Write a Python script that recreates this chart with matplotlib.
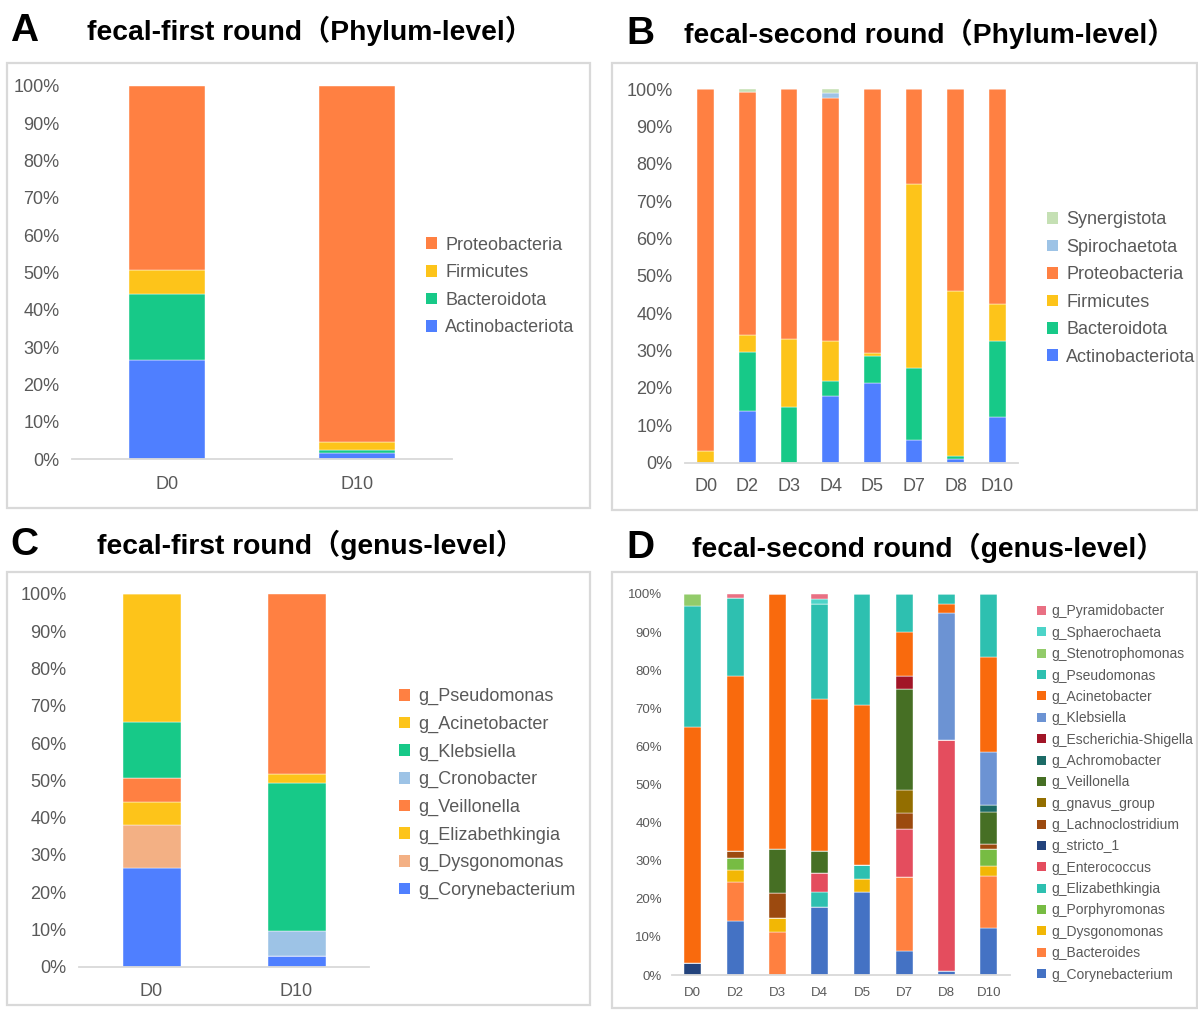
import numpy as np
import matplotlib
matplotlib.use("Agg")
import matplotlib.pyplot as plt
from matplotlib.patches import Rectangle, Patch

plt.rcParams['font.family'] = ['Liberation Sans', 'Noto Sans CJK SC', 'DejaVu Sans']

# ---------------- data ----------------
# Panel A: fecal-first round, phylum level (bottom -> top)
a_days = ["D0", "D10"]
a_phyla = ["Actinobacteriota", "Bacteroidota", "Firmicutes", "Proteobacteria"]
a_actino = [26.5, 1.5]
a_bactero = [17.8, 0.8]
a_firmi = [6.3, 2.2]
a_proteo = [49.4, 95.5]

# Panel B: fecal-second round, phylum level
b_days = ["D0", "D2", "D3", "D4", "D5", "D7", "D8", "D10"]
b_phyla = ["Actinobacteriota", "Bacteroidota", "Firmicutes", "Proteobacteria",
           "Spirochaetota", "Synergistota"]
b_actino = [0.0, 13.8, 0.0, 17.9, 21.4, 6.2, 0.9, 12.3]
b_bactero = [0.0, 15.7, 15.0, 3.9, 7.2, 19.2, 0.9, 20.3]
b_firmi = [3.1, 4.7, 18.1, 10.8, 0.7, 49.2, 44.2, 9.9]
b_proteo = [96.9, 64.9, 66.9, 65.1, 70.7, 25.4, 54.0, 57.5]
b_spiro = [0.0, 0.0, 0.0, 1.2, 0.0, 0.0, 0.0, 0.0]
b_synerg = [0.0, 0.9, 0.0, 1.1, 0.0, 0.0, 0.0, 0.0]

# Panel C: fecal-first round, genus level
c_days = ["D0", "D10"]
c_genera = ["g_Corynebacterium", "g_Dysgonomonas", "g_Elizabethkingia", "g_Veillonella",
            "g_Cronobacter", "g_Klebsiella", "g_Acinetobacter", "g_Pseudomonas"]
c_coryne = [26.6, 2.9]
c_dysgo = [11.3, 0.0]
c_eliza = [6.4, 0.0]
c_veill = [6.3, 0.0]
c_crono = [0.0, 6.8]
c_klebs = [15.1, 39.5]
c_acine = [34.3, 2.5]
c_pseudo = [0.0, 48.3]

# Panel D: fecal-second round, genus level
d_days = ["D0", "D2", "D3", "D4", "D5", "D7", "D8", "D10"]
d_genera = ["g_Corynebacterium", "g_Bacteroides", "g_Dysgonomonas", "g_Porphyromonas",
            "g_Elizabethkingia", "g_Enterococcus", "g_stricto_1", "g_Lachnoclostridium",
            "g_gnavus_group", "g_Veillonella", "g_Achromobacter", "g_Escherichia-Shigella",
            "g_Klebsiella", "g_Acinetobacter", "g_Pseudomonas", "g_Stenotrophomonas",
            "g_Sphaerochaeta", "g_Pyramidobacter"]
d_coryne = [0.0, 14.3, 0.0, 17.9, 21.8, 6.4, 1.0, 12.4]
d_bacteroides = [0.0, 10.1, 11.4, 0.0, 0.0, 19.4, 0.0, 13.7]
d_dysgo = [0.0, 3.2, 3.6, 0.0, 3.4, 0.0, 0.0, 2.5]
d_porphy = [0.0, 3.0, 0.0, 0.0, 0.0, 0.0, 0.0, 4.4]
d_eliza = [0.0, 0.0, 0.0, 3.9, 3.8, 0.0, 0.0, 0.0]
d_entero = [0.0, 0.0, 0.0, 4.9, 0.0, 12.5, 60.7, 0.0]
d_stricto = [3.1, 0.0, 0.0, 0.0, 0.0, 0.0, 0.0, 0.0]
d_lachno = [0.0, 1.9, 6.4, 0.0, 0.0, 4.2, 0.0, 1.3]
d_gnavus = [0.0, 0.0, 0.0, 0.0, 0.0, 6.1, 0.0, 0.0]
d_veill = [0.0, 0.0, 11.7, 5.8, 0.0, 26.4, 0.0, 8.5]
d_achro = [0.0, 0.0, 0.0, 0.0, 0.0, 0.0, 0.0, 1.8]
d_esch = [0.0, 0.0, 0.0, 0.0, 0.0, 3.5, 0.0, 0.0]
d_klebs = [0.0, 0.0, 0.0, 0.0, 0.0, 0.0, 33.4, 13.8]
d_acine = [61.9, 46.1, 66.9, 39.9, 41.9, 11.6, 2.3, 25.1]
d_pseudo = [31.9, 20.3, 0.0, 25.0, 29.1, 9.9, 2.6, 16.5]
d_steno = [3.1, 0.0, 0.0, 0.0, 0.0, 0.0, 0.0, 0.0]
d_sphaero = [0.0, 0.0, 0.0, 1.2, 0.0, 0.0, 0.0, 0.0]
d_pyramido = [0.0, 1.1, 0.0, 1.4, 0.0, 0.0, 0.0, 0.0]

# ---------------- styles ----------------
BLUE, GREEN, YELLOW, ORANGE = '#4F7FFF', '#17C988', '#FDC41A', '#FF8042'
LBLUE, LGREEN, PEACH = '#9DC3E6', '#C5E0B4', '#F3B084'
a_colors = [BLUE, GREEN, YELLOW, ORANGE]
b_colors = [BLUE, GREEN, YELLOW, ORANGE, LBLUE, LGREEN]
c_colors = [BLUE, PEACH, YELLOW, ORANGE, LBLUE, GREEN, YELLOW, ORANGE]
d_colors = ['#4472C4', '#FF8040', '#F2B705', '#77BC43', '#2EC0B0', '#E44D5E', '#23437C',
            '#9C4A0F', '#936E00', '#466F24', '#1C6B66', '#A11527', '#6C93D3', '#F96A0D',
            '#2EC0B0', '#92CB6A', '#4DD4C8', '#E97083']

GRAY_TXT = '#595959'
GRAY_LINE = '#D9D9D9'
W, H = 1198, 1010

fig = plt.figure(figsize=(W / 100, H / 100), dpi=100)


def rect(x0, x1, ytop, ybot):
    return [x0 / W, 1 - ybot / H, (x1 - x0) / W, (ybot - ytop) / H]


def border(x0, x1, ytop, ybot):
    fig.add_artist(Rectangle((x0 / W, 1 - ybot / H), (x1 - x0) / W, (ybot - ytop) / H,
                             transform=fig.transFigure, fill=False,
                             edgecolor=GRAY_LINE, lw=1.6))


def panel(pos, days, names, series, colors, fs, ypad, xpad, leg_left, leg_cy, leg_fs,
          leg_space):
    ax = fig.add_axes(rect(*pos))
    x = np.arange(len(days))
    bottom = np.zeros(len(days))
    handles = []
    for name, vals, col in zip(names, series, colors):
        vals = np.asarray(vals, dtype=float)
        ax.bar(x, vals, 0.4, bottom=bottom, color=col, edgecolor='white',
               linewidth=0.3, label=name)
        bottom += vals
        handles.append(Patch(facecolor=col, edgecolor='none', label=name))
    ax.set_xlim(-0.5, len(days) - 0.5)
    ax.set_ylim(0, 100)
    ax.set_yticks(np.arange(0, 101, 10))
    ax.set_yticklabels([f"{v}%" for v in range(0, 101, 10)])
    ax.set_xticks(x)
    ax.set_xticklabels(days)
    for s in ['top', 'right', 'left']:
        ax.spines[s].set_visible(False)
    ax.spines['bottom'].set_color(GRAY_LINE)
    ax.spines['bottom'].set_linewidth(1.3)
    ax.tick_params(axis='both', length=0, colors=GRAY_TXT, labelsize=fs)
    ax.tick_params(axis='y', pad=ypad)
    ax.tick_params(axis='x', pad=xpad)
    ax.set_facecolor('none')
    leg = fig.legend(handles[::-1], names[::-1], loc='center left',
                     bbox_to_anchor=(leg_left / W, 1 - leg_cy / H),
                     frameon=False, fontsize=leg_fs, handlelength=0.62,
                     handleheight=0.62, handletextpad=0.45, labelspacing=leg_space,
                     borderpad=0, borderaxespad=0)
    for t in leg.get_texts():
        t.set_color(GRAY_TXT)
    return ax


# borders
border(7, 590, 63, 508)
border(612, 1197, 63, 510)
border(7, 590, 572, 1005)
border(612, 1197, 572, 1008)

panel((72, 452, 86, 459), a_days, a_phyla, [a_actino, a_bactero, a_firmi, a_proteo],
      a_colors, 13, 9, 12, 426, 286.5, 13, 0.59)
panel((685, 1018, 89, 462.7), b_days, b_phyla,
      [b_actino, b_bactero, b_firmi, b_proteo, b_spiro, b_synerg],
      b_colors, 13, 9, 11, 1047, 288.5, 13, 0.58)
panel((79, 369, 594, 966.7), c_days, c_genera,
      [c_coryne, c_dysgo, c_eliza, c_veill, c_crono, c_klebs, c_acine, c_pseudo],
      c_colors, 13, 9, 12, 399, 793.5, 13, 0.58)
panel((671.7, 1010, 594, 975), d_days, d_genera,
      [d_coryne, d_bacteroides, d_dysgo, d_porphy, d_eliza, d_entero, d_stricto, d_lachno,
       d_gnavus, d_veill, d_achro, d_esch, d_klebs, d_acine, d_pseudo, d_steno, d_sphaero,
       d_pyramido],
      d_colors, 9.5, 7, 8.5, 1037, 793, 10, 0.53)

# titles
def title(letter, lx, text, tx, y):
    fig.text(lx / W, 1 - y / H, letter, fontsize=28, fontweight='bold',
             va='center', ha='left', color='black')
    fig.text(tx / W, 1 - y / H, text, fontsize=20.3, fontweight='bold',
             va='center', ha='left', color='black')


title("A", 10, "fecal-first round（Phylum-level）", 87, 31)
title("B", 626, "fecal-second round（Phylum-level）", 684, 34)
title("C", 10, "fecal-first round（genus-level）", 97, 545)
title("D", 626, "fecal-second round（genus-level）", 692, 548)

fig.savefig("out.png", dpi=100, facecolor='white')
